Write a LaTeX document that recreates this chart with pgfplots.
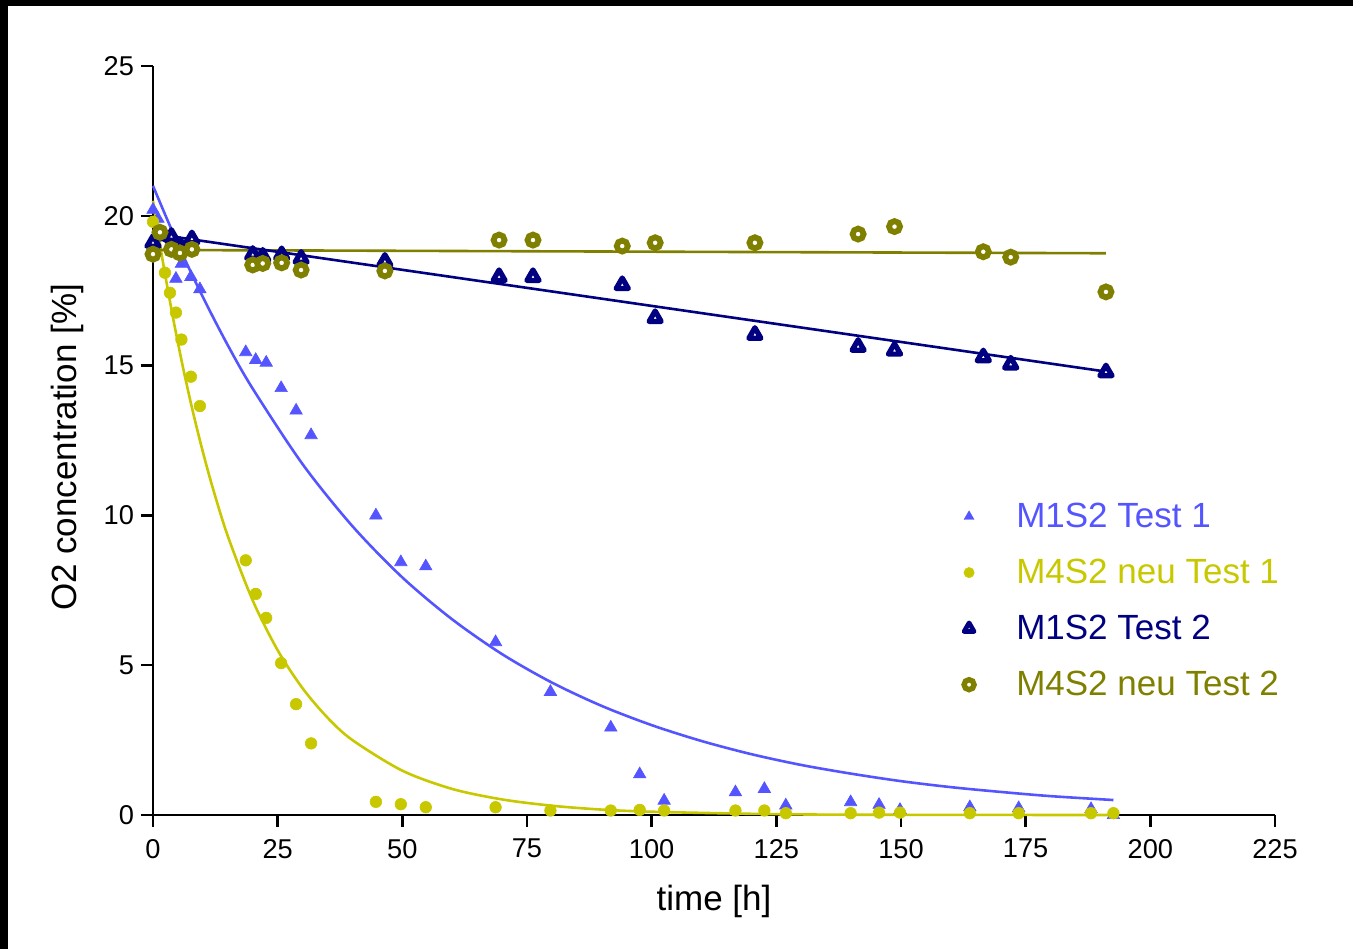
\documentclass[border=0pt]{standalone}
\usepackage{fontspec}
\setmainfont{Liberation Sans}
\usepackage{pgfplots}
\usepackage{pgfplotstable}
\pgfplotsset{compat=1.18}

\definecolor{lightblue}{RGB}{85,85,255}
\definecolor{yel}{RGB}{200,200,0}
\definecolor{navy}{RGB}{0,0,128}
\definecolor{oliv}{RGB}{128,128,0}

% test 1: time, M1S2, M4S2 neu
\pgfplotstableread{
t    a      b
0    20.2   19.8
1    19.9   19.4
2.4  19.4   18.1
3.4  19.0   17.43
4.6  17.9   16.77
5.7  18.4   15.87
7.6  17.96  14.63
9.4  17.55  13.65
18.6 15.45  8.5
20.6 15.19  7.38
22.7 15.1   6.58
25.7 14.25  5.07
28.7 13.5   3.7
31.7 12.68  2.39
44.7 10.0   0.44
49.7 8.44   0.36
54.7 8.3    0.26
68.7 5.77   0.26
79.7 4.11   0.15
91.8 2.92   0.15
97.6 1.36   0.17
102.5 0.48  0.15
116.8 0.76  0.15
122.6 0.87  0.15
126.9 0.32  0.06
139.9 0.43  0.06
145.6 0.34  0.08
149.8 0.17  0.08
163.8 0.26  0.06
173.6 0.23  0.06
188.1 0.2   0.06
192.6 0.0   0.06
}\testone

% test 2: time, M1S2, M4S2 neu
\pgfplotstableread{
t     a      b
0     19.1   18.72
1.4   19.35  19.45
3.7   19.3   18.88
5.4   19.0   18.76
7.8   19.22  18.88
20    18.7   18.36
22    18.64  18.41
25.8  18.69  18.43
29.7  18.57  18.19
46.5  18.47  18.16
69.4  17.96  19.19
76.2  17.96  19.19
94.1  17.69  18.99
100.7 16.59  19.1
120.7 16.03  19.1
141.4 15.63  19.39
148.7 15.5   19.64
166.5 15.28  18.8
172   15.04  18.62
191.1 14.78  17.46
}\testtwo

\begin{document}
\begin{tikzpicture}
\useasboundingbox (-76.5pt,-67pt) rectangle (600pt,407.5pt);
\fill[black] (-76.5pt,-67pt) rectangle (-72.5pt,407.5pt);
\fill[black] (-76.5pt,404.5pt) rectangle (600pt,407.5pt);
\begin{axis}[
    at={(0,0)}, anchor=south west,
    scale only axis,
    width=561pt, height=374.5pt,
    xmin=0, xmax=225, ymin=0, ymax=25,
    axis lines=left,
    axis line style={-, line width=1.2pt},
    xtick={0,25,...,225},
    ytick={0,5,...,25},
    tick align=outside,
    major tick length=6pt,
    tick style={line width=1.2pt, black},
    ticklabel style={font=\fontsize{13.6}{16}\selectfont},
    xticklabel style={yshift=-2.5pt},
    /pgf/number format/assume math mode=true,
    xlabel={time [h]},
    ylabel={O2 concentration [\%]},
    label style={font=\fontsize{17.5}{21}\selectfont},
    xlabel style={at={(axis description cs:0.5,-0.116)}, anchor=center},
    ylabel style={at={(axis description cs:-0.0758,0.4907)}, anchor=center},
    clip=false,
    legend style={draw=none, fill=none, at={(rel axis cs:0.717,0.428)}, anchor=north west,
        font=\fontsize{17.5}{21}\selectfont, row sep=10.3pt,
        /tikz/every odd column/.append style={column sep=19pt}},
    legend cell align=left,
]
% legend images
\addlegendimage{only marks, mark=triangle*, mark size=2.9pt,
    mark options={draw=lightblue, fill=lightblue, line width=0.2pt}}
\addlegendimage{only marks, mark=*, mark size=2.6pt,
    mark options={draw=yel, fill=yel, line width=0.2pt}}
\addlegendimage{only marks, mark=triangle*, mark size=2.9pt,
    mark options={draw=navy, fill=white, line width=2.3pt, line join=round}}
\addlegendimage{only marks, mark=*, mark size=2.5pt,
    mark options={draw=oliv, fill=white, line width=2.7pt}}

% fitted curves
\addplot[lightblue, line width=1.3pt, smooth, forget plot] coordinates {
(0,21.0) (5,19.05) (10,17.29) (15,15.68) (20,14.23) (30,11.71) (40,9.64) (50,7.93)
(60,6.53) (70,5.37) (80,4.42) (90,3.64) (100,3.00) (110,2.47) (120,2.03) (130,1.67)
(140,1.38) (150,1.13) (160,0.93) (170,0.77) (180,0.63) (192.6,0.50)};
\addplot[yel, line width=1.3pt, smooth, forget plot] coordinates {
(0,20.5) (2,18.45) (4,16.61) (6,14.95) (8,13.46) (10,12.12) (12,10.91) (15,9.31)
(20,7.16) (25,5.50) (30,4.23) (35,3.25) (40,2.50) (50,1.48) (60,0.87) (70,0.52)
(80,0.31) (90,0.18) (100,0.11) (120,0.04) (140,0.01) (192.6,0.0)};
\addplot[oliv, line width=1.3pt, forget plot] coordinates {(0,18.86) (191.1,18.75)};
\addplot[navy, line width=1.3pt, forget plot] coordinates {(0,19.4) (191.1,14.8)};

% measured points
\addplot[only marks, mark=triangle*, mark size=3.6pt, forget plot,
    mark options={draw=lightblue, fill=lightblue, line width=0.3pt}]
    table[x=t, y=a] {\testone};
\addplot[only marks, mark=*, mark size=2.9pt, forget plot,
    mark options={draw=yel, fill=yel, line width=0.3pt}]
    table[x=t, y=b] {\testone};
\addplot[only marks, mark=triangle*, mark size=3.5pt, forget plot,
    mark options={draw=navy, fill=white, line width=2.6pt, line join=round}]
    table[x=t, y=a] {\testtwo};
\addplot[only marks, mark=*, mark size=2.75pt, forget plot,
    mark options={draw=oliv, fill=white, line width=2.9pt}]
    table[x=t, y=b] {\testtwo};
\legend{\textcolor{lightblue}{M1S2 Test 1}, \textcolor{yel}{M4S2 neu Test 1},
    \textcolor{navy}{M1S2 Test 2}, \textcolor{oliv}{M4S2 neu Test 2}}
\end{axis}
\end{tikzpicture}
\end{document}
